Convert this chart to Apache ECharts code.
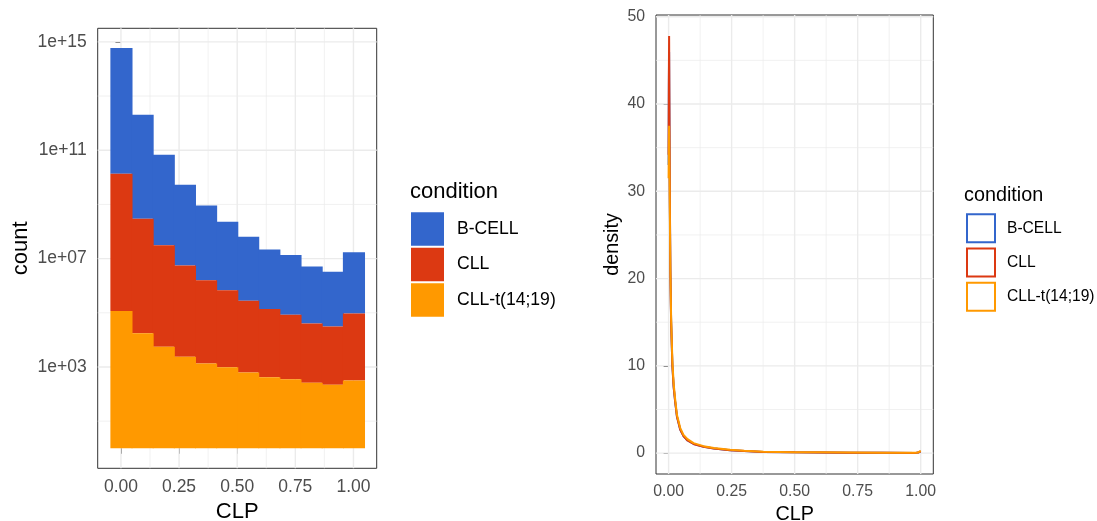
<!DOCTYPE html>
<html>
<head>
<meta charset="utf-8">
<script src="https://cdn.jsdelivr.net/npm/echarts@6/dist/echarts.min.js"></script>
<style>
  html, body { margin: 0; padding: 0; background: #fff; }
  #main { width: 1097px; height: 521px; }
</style>
</head>
<body>
<div id="main"></div>
<script>
const FONT = "'Liberation Sans', Arial, Helvetica, sans-serif";

const conditions = ['B-CELL', 'CLL', 'CLL-t(14;19)'];
const colors = ['#3366CC', '#DC3912', '#FF9900'];

// left panel: histogram of CLP, 12 bins, counts per condition
const binCenters = [0.000, 0.091, 0.182, 0.273, 0.364, 0.455, 0.545, 0.636, 0.727, 0.818, 0.909, 1.000];
const binWidth = 0.0909;
const countBCell = [43600, 6900, 2190, 955, 575, 340, 230, 155, 162, 126, 105, 182];
const countCLL   = [115000, 17000, 5500, 2340, 1170, 690, 450, 330, 240, 155, 141, 295];
const countCLLt  = [117000, 17400, 5600, 2400, 1350, 980, 620, 420, 350, 260, 220, 320];

// left panel ticks (log10 units)
const logMajor = [3, 7, 11, 15];
const logMinor = [1, 5, 9, 13];
const clpMajor = [0, 0.25, 0.5, 0.75, 1];
const clpMinor = [0.125, 0.375, 0.625, 0.875];

// right panel: density curves
const densX     = [0, 0.001, 0.002, 0.003, 0.005, 0.007, 0.010, 0.015, 0.020, 0.026, 0.033, 0.046, 0.059, 0.075, 0.099, 0.139, 0.18, 0.244, 0.3, 0.376, 0.5, 0.6, 0.72, 0.85, 0.98, 0.99, 1.0];
const densBCell = [33, 42, 46, 40, 28.5, 20.8, 15, 10, 7.6, 5.9, 4.2, 2.7, 1.95, 1.45, 1.05, 0.72, 0.53, 0.34, 0.24, 0.14, 0.09, 0.07, 0.05, 0.04, 0.03, 0.06, 0.2];
const densCLL   = [34.2, 43, 47.8, 41, 29, 21, 15, 10, 7.6, 5.9, 4.2, 2.7, 1.95, 1.45, 1.05, 0.72, 0.53, 0.34, 0.24, 0.14, 0.09, 0.07, 0.05, 0.04, 0.03, 0.06, 0.2];
const densCLLt  = [31.5, 35.5, 37.5, 34, 27, 21, 15.5, 10.5, 8.0, 6.2, 4.4, 2.9, 2.1, 1.6, 1.15, 0.8, 0.6, 0.38, 0.27, 0.16, 0.11, 0.09, 0.07, 0.05, 0.04, 0.08, 0.25];
const densMajor = [0, 10, 20, 30, 40, 50];
const densMinor = [5, 15, 25, 35, 45];

// ggplot stacks after the log10 transform, so the segments are stacked in log space
const counts = [countBCell, countCLL, countCLLt];
const histData = [[], [], []];
binCenters.forEach(function (c, i) {
  let base = 0;
  for (let k = 2; k >= 0; k--) {
    const h = Math.log10(counts[k][i]);
    histData[k].push([c - binWidth / 2, c + binWidth / 2, base, base + h]);
    base += h;
  }
});

function rectItem(params, api) {
  const p0 = api.coord([api.value(0), api.value(3)]);
  const p1 = api.coord([api.value(1), api.value(2)]);
  return {
    type: 'rect',
    shape: { x: p0[0], y: p0[1], width: p1[0] - p0[0] + 1, height: p1[1] - p0[1] },
    style: { fill: api.visual('color') }
  };
}

function gridLineItem(params, api) {
  const cs = params.coordSys;
  const dir = api.value(0), v = api.value(1), major = api.value(2);
  let shape;
  if (dir === 0) {
    const x = api.coord([v, 0])[0];
    shape = { x1: x, y1: cs.y, x2: x, y2: cs.y + cs.height };
  } else {
    const y = api.coord([0, v])[1];
    shape = { x1: cs.x, y1: y, x2: cs.x + cs.width, y2: y };
  }
  return { type: 'line', shape: shape, style: { stroke: '#EBEBEB', lineWidth: major ? 1.4 : 0.7 } };
}

function gridData(xMaj, xMin, yMaj, yMin) {
  return [].concat(
    xMin.map(v => [0, v, 0]), yMin.map(v => [1, v, 0]),
    xMaj.map(v => [0, v, 1]), yMaj.map(v => [1, v, 1])
  );
}

function axisBase(ticks, fontSize, margin, fmt, tickLen, pad) {
  return {
    axisLine: { show: false },
    splitLine: { show: false },
    axisTick: { show: true, customValues: ticks, length: tickLen, lineStyle: { color: '#333333', width: 1 } },
    axisLabel: { customValues: ticks, formatter: fmt, fontSize: fontSize, color: '#4D4D4D', fontFamily: FONT,
      margin: margin, padding: pad || 0 }
  };
}

const myChart = echarts.init(document.getElementById('main'));

myChart.setOption({
  animation: false,
  textStyle: { fontFamily: FONT },
  title: [
    { text: 'condition', left: 410, top: 181, padding: 0,
      textStyle: { fontSize: 22, fontWeight: 'normal', color: '#000', fontFamily: FONT } },
    { text: 'condition', left: 964, top: 186, padding: 0,
      textStyle: { fontSize: 19.8, fontWeight: 'normal', color: '#000', fontFamily: FONT } }
  ],
  legend: [
    {
      left: 411, top: 212.3, orient: 'vertical', icon: 'rect', padding: 0,
      itemWidth: 33, itemHeight: 33.5, itemGap: 2, selectedMode: false,
      data: conditions.map((n, i) => ({ name: n, itemStyle: { color: colors[i], borderWidth: 0 } })),
      textStyle: { fontSize: 17.6, color: '#000', fontFamily: FONT, padding: [0, 0, 0, 8] }
    },
    {
      left: 966, top: 213.3, orient: 'vertical', icon: 'rect', padding: 0,
      itemWidth: 28, itemHeight: 28, itemGap: 4.2, selectedMode: false,
      data: conditions.map((n, i) => ({ name: n, itemStyle: { color: '#fff', borderColor: colors[i], borderWidth: 2 } })),
      textStyle: { fontSize: 15.6, color: '#000', fontFamily: FONT, padding: [0, 0, 0, 7] }
    }
  ],
  grid: [
    { left: 97.7, top: 28.3, width: 279, height: 440, outerBoundsMode: 'none', containLabel: false,
      show: true, backgroundColor: '#fff', borderColor: '#333333', borderWidth: 1 },
    { left: 656, top: 15, width: 277.3, height: 459, outerBoundsMode: 'none', containLabel: false,
      show: true, backgroundColor: '#fff', borderColor: '#333333', borderWidth: 1 }
  ],
  xAxis: [
    Object.assign(axisBase(clpMajor, 17.5, 10, v => v.toFixed(2), 5.5), {
      gridIndex: 0, type: 'value', min: -0.1, max: 1.1,
      name: 'CLP', nameLocation: 'middle', nameGap: 31,
      nameTextStyle: { fontSize: 22, color: '#000', fontFamily: FONT }
    }),
    Object.assign(axisBase(clpMajor, 15.8, 10, v => v.toFixed(2), 5), {
      gridIndex: 1, type: 'value', min: -0.05, max: 1.05,
      name: 'CLP', nameLocation: 'middle', nameGap: 28.5,
      nameTextStyle: { fontSize: 19.8, color: '#000', fontFamily: FONT }
    })
  ],
  yAxis: [
    Object.assign(axisBase(logMajor, 17.5, 11, v => '1e+' + String(v).padStart(2, '0'), 5.5, [2, 0, 0, 0]), {
      gridIndex: 0, type: 'value', min: -0.74, max: 15.5,
      name: 'count', nameLocation: 'middle', nameGap: 66,
      nameTextStyle: { fontSize: 22, color: '#000', fontFamily: FONT }
    }),
    Object.assign(axisBase(densMajor, 15.8, 11, v => String(v), 5, [3, 0, 0, 0]), {
      gridIndex: 1, type: 'value', min: -2.39, max: 50.2,
      name: 'density', nameLocation: 'middle', nameGap: 33,
      nameTextStyle: { fontSize: 19.8, color: '#000', fontFamily: FONT }
    })
  ],
  series: [
    { type: 'custom', xAxisIndex: 0, yAxisIndex: 0, z: 1, silent: true,
      renderItem: gridLineItem, data: gridData(clpMajor, clpMinor, logMajor, logMinor) },
    { type: 'custom', xAxisIndex: 1, yAxisIndex: 1, z: 1, silent: true,
      renderItem: gridLineItem, data: gridData(clpMajor, clpMinor, densMajor, densMinor) }
  ].concat(
    conditions.map((n, k) => ({
      name: n, type: 'custom', xAxisIndex: 0, yAxisIndex: 0, z: 2,
      itemStyle: { color: colors[k] },
      encode: { x: [0, 1], y: [2, 3] },
      renderItem: rectItem, data: histData[k]
    })),
    [densBCell, densCLL, densCLLt].map((d, k) => ({
      name: conditions[k], type: 'line', xAxisIndex: 1, yAxisIndex: 1, z: 3,
      showSymbol: false, symbol: 'none',
      color: colors[k],
      lineStyle: { color: colors[k], width: 2 },
      data: densX.map((x, i) => [x, d[i]])
    }))
  )
});
</script>
</body>
</html>
